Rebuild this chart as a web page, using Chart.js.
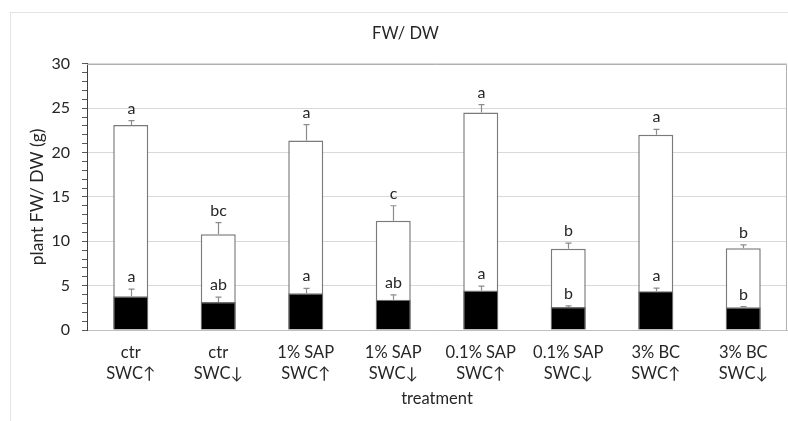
<!DOCTYPE html>
<html>
<head>
<meta charset="utf-8">
<script src="https://cdn.jsdelivr.net/npm/chart.js@4.4.0/dist/chart.umd.min.js"></script>
<style>
html,body{margin:0;padding:0;background:#fff;}
#wrap{width:788px;height:421px;position:relative;}
</style>
</head>
<body>
<div id="wrap"><canvas id="c" width="788" height="421"></canvas></div>
<script>
const categories = [
  ["ctr","SWC↑"],["ctr","SWC↓"],["1% SAP","SWC↑"],["1% SAP","SWC↓"],
  ["0.1% SAP","SWC↑"],["0.1% SAP","SWC↓"],["3% BC","SWC↑"],["3% BC","SWC↓"]
];
const fwValues = [23.1, 10.8, 21.35, 12.3, 24.5, 9.15, 22.0, 9.2];
const fwErrors = [0.5, 1.3, 1.8, 1.7, 0.9, 0.65, 0.6, 0.4];
const fwLetters = ["a","bc","a","c","a","b","a","b"];
const dwValues = [3.8, 3.15, 4.15, 3.4, 4.45, 2.58, 4.38, 2.55];
const dwErrors = [0.8, 0.55, 0.55, 0.55, 0.5, 0.15, 0.35, 0.08];
const dwLetters = ["a","ab","a","ab","a","b","a","b"];
const yTicks = [0, 5, 10, 15, 20, 25, 30];

const FONT = "Lato, 'Open Sans', sans-serif";

const framePlugin = {
  id: 'frame',
  beforeDraw(chart) {
    const ctx = chart.ctx;
    ctx.save();
    ctx.strokeStyle = '#e3e3e3';
    ctx.lineWidth = 1;
    ctx.strokeRect(10.5, 12.5, 900, 600);
    ctx.restore();
  },
  afterDatasetsDraw(chart) {
    const ctx = chart.ctx;
    const a = chart.chartArea;
    const y = chart.scales.y;
    ctx.save();
    ctx.strokeStyle = '#b0b0b0';
    ctx.lineWidth = 1;
    ctx.beginPath();
    ctx.moveTo(a.left, Math.round(a.top) + 0.5);
    ctx.lineTo(a.right - 0.5, Math.round(a.top) + 0.5);
    ctx.lineTo(a.right - 0.5, a.bottom);
    ctx.stroke();
    const sets = [
      {idx: 1, vals: fwValues, errs: fwErrors, letters: fwLetters},
      {idx: 0, vals: dwValues, errs: dwErrors, letters: dwLetters}
    ];
    ctx.font = "16px " + FONT;
    ctx.textAlign = 'center';
    ctx.textBaseline = 'alphabetic';
    sets.forEach(s => {
      const meta = chart.getDatasetMeta(s.idx);
      meta.data.forEach((bar, i) => {
        const x = Math.round(bar.x) + 0.5;
        const yTop = y.getPixelForValue(s.vals[i]);
        const yErr = y.getPixelForValue(s.vals[i] + s.errs[i]);
        ctx.strokeStyle = '#8c8c8c';
        ctx.lineWidth = 1.2;
        ctx.beginPath();
        ctx.moveTo(x, yTop);
        ctx.lineTo(x, yErr);
        ctx.moveTo(x - 3, yErr);
        ctx.lineTo(x + 3, yErr);
        ctx.stroke();
        ctx.fillStyle = '#262626';
        ctx.fillText(s.letters[i], x, yErr - 7);
      });
    });
    ctx.restore();
  }
};

new Chart(document.getElementById('c'), {
  type: 'bar',
  data: {
    labels: categories,
    datasets: [
      {
        label: 'DW',
        data: dwValues,
        backgroundColor: '#000000',
        borderColor: '#6f6f6f',
        borderWidth: 1.2,
        grouped: false,
        barPercentage: 0.4,
        categoryPercentage: 1.0
      },
      {
        label: 'FW',
        data: fwValues,
        backgroundColor: '#ffffff',
        borderColor: '#7a7a7a',
        borderWidth: 1.5,
        grouped: false,
        barPercentage: 0.4,
        categoryPercentage: 1.0
      }
    ]
  },
  options: {
    responsive: false,
    animation: false,
    devicePixelRatio: 1,
    layout: { padding: { left: 24, right: 1, top: 12, bottom: 8 } },
    plugins: {
      legend: { display: false },
      tooltip: { enabled: false },
      title: {
        display: true,
        text: 'FW/ DW',
        color: '#262626',
        font: { family: FONT, size: 16.5, weight: 'normal', lineHeight: 1.2 },
        padding: { top: 12, bottom: 20 }
      }
    },
    scales: {
      x: {
        afterFit(scale) { scale.height = 83; },
        grid: { display: false, drawTicks: false },
        border: { display: true, color: '#bfbfbf', width: 1 },
        ticks: {
          color: '#262626',
          font: { family: FONT, size: 16.5, lineHeight: 1.27 },
          padding: 12.5,
          maxRotation: 0,
          autoSkip: false
        },
        title: {
          display: true,
          text: 'treatment',
          color: '#262626',
          font: { family: FONT, size: 16.5, lineHeight: 1.2 },
          padding: { top: 4, bottom: 4 }
        }
      },
      y: {
        min: 0,
        max: 30,
        afterBuildTicks(scale) {
          const t = [];
          for (let v = 0; v <= 30; v++) t.push({ value: v });
          scale.ticks = t;
        },
        afterFit(scale) { scale.width = 63; },
        grid: {
          color: (c) => (c.tick && yTicks.includes(c.tick.value) && c.tick.value !== 0) ? '#d9d9d9' : 'rgba(0,0,0,0)',
          tickColor: '#595959',
          tickLength: 5,
          lineWidth: 1
        },
        border: { display: true, color: '#404040', width: 1 },
        ticks: {
          color: '#262626',
          font: { family: FONT, size: 16 },
          padding: 12,
          autoSkip: false,
          callback: (v) => yTicks.includes(v) ? String(v) : ''
        },
        title: {
          display: true,
          text: 'plant FW/ DW (g)',
          color: '#262626',
          font: { family: FONT, size: 17.5, lineHeight: 1.2 },
          padding: { top: 3, bottom: 4 }
        }
      }
    }
  },
  plugins: [framePlugin]
});
</script>
</body>
</html>
